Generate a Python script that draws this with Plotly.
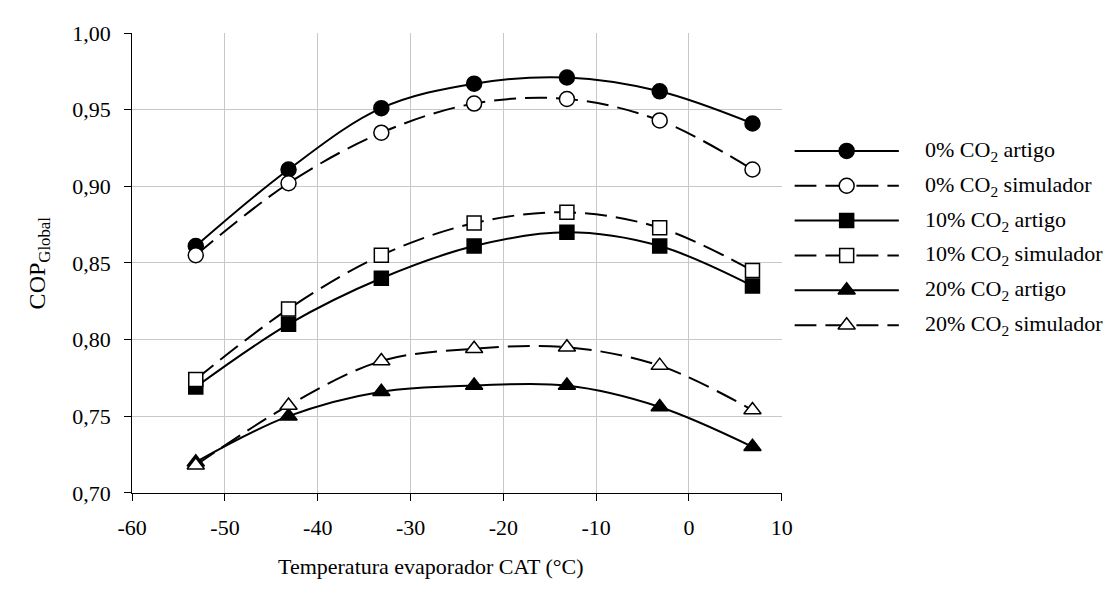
import plotly.graph_objects as go

temps = [-53.15, -43.15, -33.15, -23.15, -13.15, -3.15, 6.85]
cop0_artigo = [0.861, 0.911, 0.951, 0.967, 0.971, 0.962, 0.941]
cop0_sim = [0.855, 0.902, 0.935, 0.954, 0.957, 0.943, 0.911]
cop10_artigo = [0.769, 0.810, 0.840, 0.861, 0.870, 0.861, 0.835]
cop10_sim = [0.774, 0.820, 0.855, 0.876, 0.883, 0.873, 0.845]
cop20_artigo = [0.720, 0.750, 0.766, 0.770, 0.770, 0.756, 0.730]
cop20_sim = [0.718, 0.757, 0.786, 0.794, 0.795, 0.783, 0.754]

x_tickvals = [-60, -50, -40, -30, -20, -10, 0, 10]
x_ticktext = ["-60", "-50", "-40", "-30", "-20", "-10", "0", "10"]

x_title = "Temperatura evaporador CAT (°C)"
y_title = "COP<sub>Global</sub>"
labels = ["0% CO<sub>2</sub> artigo", "0% CO<sub>2</sub> simulador",
          "10% CO<sub>2</sub> artigo", "10% CO<sub>2</sub> simulador",
          "20% CO<sub>2</sub> artigo", "20% CO<sub>2</sub> simulador"]
series = [cop0_artigo, cop0_sim, cop10_artigo, cop10_sim, cop20_artigo, cop20_sim]
symbols = ["circle", "circle", "square", "square", "triangle-up", "triangle-up"]
filled = [True, False, True, False, True, False]
msize = [15, 15, 14, 14, 15, 15]

W, H = 1116, 592
FONT = "Liberation Serif"
DASH = "22px,9px"

fig = go.Figure()

for ys, sym, fil, ms in zip(series, symbols, filled, msize):
    fig.add_trace(go.Scatter(
        x=temps, y=ys, mode="lines+markers",
        line=dict(color="black", width=2, shape="spline", smoothing=1.0,
                  dash="solid" if fil else DASH),
        marker=dict(symbol=sym, size=ms, color="black" if fil else "white",
                    line=dict(color="black", width=1.5)),
        showlegend=False, xaxis="x", yaxis="y"))

# manual legend (right side)
for i, (sym, fil, ms) in enumerate(zip(symbols, filled, msize)):
    r = i + 0.5
    fig.add_trace(go.Scatter(
        x=[0, 1], y=[r, r], mode="lines",
        line=dict(color="black", width=2, dash="solid" if fil else DASH),
        showlegend=False, xaxis="x2", yaxis="y2", hoverinfo="skip"))
    fig.add_trace(go.Scatter(
        x=[0.5], y=[r], mode="markers",
        marker=dict(symbol=sym, size=ms, color="black" if fil else "white",
                    line=dict(color="black", width=1.5)),
        showlegend=False, xaxis="x2", yaxis="y2", hoverinfo="skip"))
    fig.add_annotation(x=930 / W, xref="paper", y=r, yref="y2", text=labels[i],
                       showarrow=False, xanchor="left", yanchor="middle",
                       font=dict(family=FONT, size=22, color="black"))

# axis titles
fig.add_annotation(x=426 / W, xref="paper", y=1 - 579 / H, yref="paper",
                   text=x_title, showarrow=False, xanchor="center", yanchor="middle",
                   font=dict(family=FONT, size=22, color="black"))
fig.add_annotation(x=24 / W, xref="paper", y=1 - 262 / H, yref="paper",
                   text=y_title, showarrow=False, textangle=-90,
                   xanchor="center", yanchor="middle",
                   font=dict(family=FONT, size=24, color="black"))

x0, x1, yt, yb = 120, 785, 22, 502
fig.update_layout(
    width=W, height=H,
    margin=dict(l=0, r=0, t=0, b=0),
    paper_bgcolor="white", plot_bgcolor="white",
    separators=", ",
    font=dict(family=FONT, size=22, color="black"),
    xaxis=dict(domain=[x0 / W, x1 / W], range=[-60, 10],
               tickvals=x_tickvals, ticktext=x_ticktext,
               showgrid=True, gridcolor="#c8c8c8", gridwidth=1,
               showline=True, linecolor="black", linewidth=1,
               ticks="outside", ticklen=7, tickcolor="black",
               ticklabelstandoff=8,
               zeroline=False, tickfont=dict(family=FONT, size=22, color="black")),
    yaxis=dict(domain=[1 - yb / H, 1 - yt / H], range=[0.70, 1.00], dtick=0.05,
               tick0=0.70, tickformat=".2f",
               showgrid=True, gridcolor="#c8c8c8", gridwidth=1,
               showline=True, linecolor="black", linewidth=1,
               ticks="outside", ticklen=7, tickcolor="black",
               ticklabelstandoff=9,
               zeroline=False, tickfont=dict(family=FONT, size=22, color="black")),
    xaxis2=dict(domain=[798 / W, 905 / W], range=[0, 1], visible=False,
                anchor="y2", fixedrange=True),
    yaxis2=dict(domain=[1 - 345.2 / H, 1 - 126.8 / H], range=[6, 0],
                visible=False, anchor="x2", fixedrange=True),
)

fig.write_html("out.html")
